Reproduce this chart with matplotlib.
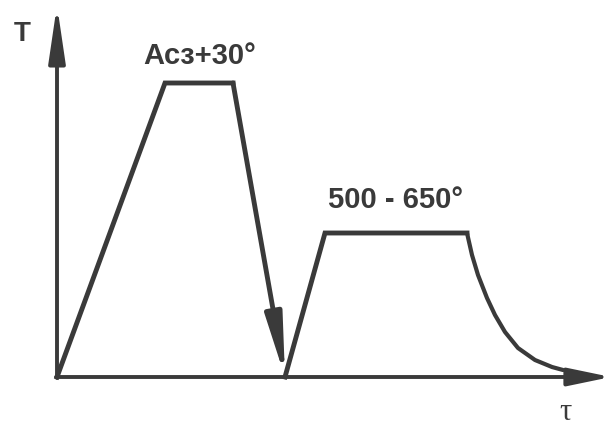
import matplotlib
matplotlib.use("Agg")
import matplotlib.pyplot as plt

# heat treatment schedule (time, temperature), arbitrary units
heat_t = [0, 108, 176]
heat_T = [0, 294, 294]
quench_t = [176, 228]
quench_T = [294, 0]
temper_t = [228, 268, 410]
temper_T = [0, 144, 144]
cool_t = [410, 415, 421, 430, 438, 448, 461, 478, 495, 506]
cool_T = [144, 122, 102, 79, 62, 45, 29, 17, 10, 7]

label_hard = "Acз+30°"
label_temper = "500 - 650°"

col = "#3a3a3a"
fnt = ["Liberation Sans Narrow", "Liberation Sans", "DejaVu Sans"]

fig = plt.figure(figsize=(6.13, 4.26), dpi=100)
ax = fig.add_axes([0, 0, 1, 1])
ax.set_xlim(-57, 556)
ax.set_ylim(-49, 377)
ax.axis("off")

# axes with arrows
ax.annotate("", xy=(0, 372), xytext=(0, -1),
            arrowprops=dict(arrowstyle="-|>,head_length=1.7,head_width=0.25",
                            mutation_scale=20, color=col, lw=2.8,
                            shrinkA=0, shrinkB=0))
ax.annotate("", xy=(554, 0), xytext=(-1, 0),
            arrowprops=dict(arrowstyle="-|>,head_length=1.3,head_width=0.27",
                            mutation_scale=20, color=col, lw=2.8,
                            shrinkA=0, shrinkB=0))

ax.plot(heat_t, heat_T, color=col, lw=3.5, solid_joinstyle="miter")
ax.plot(temper_t, temper_T, color=col, lw=3.5, solid_joinstyle="miter")
ax.plot(cool_t, cool_T, color=col, lw=3.0, solid_capstyle="round",
        solid_joinstyle="round")
ax.annotate("", xy=(quench_t[1], quench_T[1]), xytext=(quench_t[0], quench_T[0]),
            arrowprops=dict(arrowstyle="-|>,head_length=1.8,head_width=0.25",
                            mutation_scale=20, color=col, lw=3.5,
                            shrinkA=0, shrinkB=0))

ax.text(-35, 343, "T", fontsize=20, fontweight="bold", family=fnt,
        color=col, ha="center", va="center")
ax.text(143, 321, label_hard, fontsize=21, fontweight="bold", family=fnt,
        color=col, ha="center", va="center")
ax.text(338, 177, label_temper, fontsize=21, fontweight="bold", family=fnt,
        color=col, ha="center", va="center")
ax.text(508, -35, "τ", fontsize=22, family=["Liberation Serif", "DejaVu Serif"],
        color=col, ha="center", va="center")

fig.savefig("out.png", dpi=100)
